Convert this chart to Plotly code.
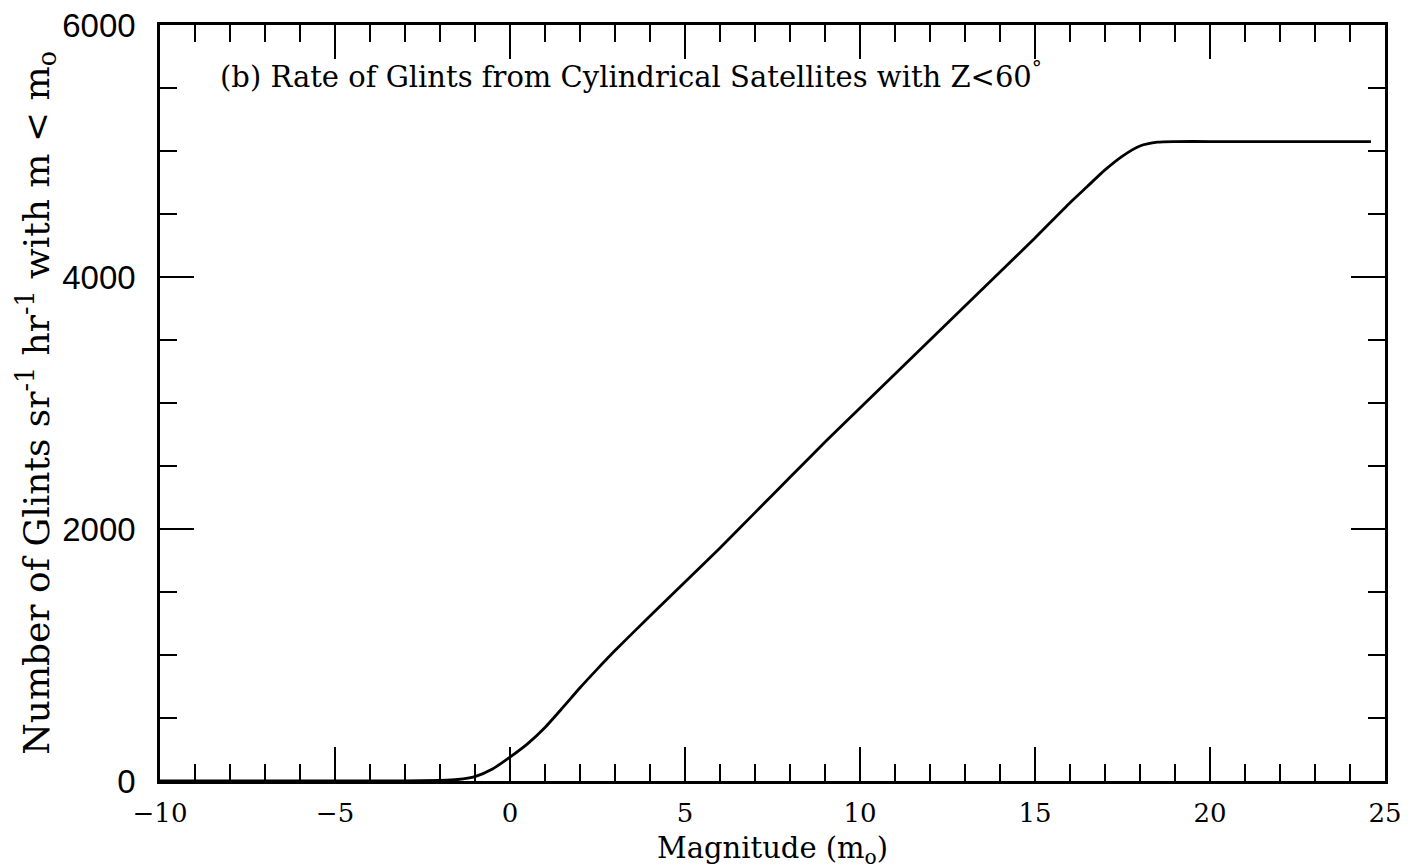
import plotly.graph_objects as go

magnitude = [-10, -9, -8, -7, -6, -5, -4, -3, -2, -1.5, -1, -0.5, 0, 0.5, 1, 1.5, 2, 2.5, 3, 4, 5, 6, 7, 8, 9, 10,
             11, 12, 13, 14, 15, 16, 16.5, 17, 17.5, 18, 18.5, 19, 20, 21, 22, 23, 24, 24.6]
glints = [0, 0, 0, 0, 0, 0, 0, 0, 5, 12, 35, 95, 190, 295, 425, 580, 740, 890, 1035, 1310, 1580, 1850, 2130, 2410,
          2690, 2960, 3230, 3500, 3770, 4040, 4310, 4590, 4720, 4850, 4960, 5040, 5070, 5075, 5075, 5075,
          5075, 5075, 5075, 5075]

x_ticks = [-10, -5, 0, 5, 10, 15, 20, 25]
y_ticks = [0, 2000, 4000, 6000]

serif = "DejaVu Serif"

fig = go.Figure()
fig.add_trace(go.Scatter(x=magnitude, y=glints, mode="lines",
                         line=dict(color="black", width=2.8, shape="spline", smoothing=0.6),
                         showlegend=False, hoverinfo="skip"))

fig.add_annotation(x=-8.35, y=5600, xref="x", yref="y", xanchor="left", yanchor="middle",
                   text="(b) Rate of Glints from Cylindrical Satellites with Z&lt;60<sup>°</sup>",
                   showarrow=False, font=dict(family=serif, size=29, color="black"))

fig.add_annotation(x=0.5, y=-0.064, xref="paper", yref="paper", xanchor="center", yanchor="top",
                   text="Magnitude (m<sub>o</sub>)", showarrow=False,
                   font=dict(family=serif, size=29, color="black"))

fig.update_xaxes(range=[-10, 25], tickvals=x_ticks, ticktext=[str(v).replace("-", "\u2212") for v in x_ticks],
                 ticks="inside", ticklen=34, tickwidth=2, tickcolor="black",
                 minor=dict(dtick=1, ticks="inside", ticklen=17, tickwidth=2, tickcolor="black"),
                 showline=True, linecolor="black", linewidth=2.5, mirror="allticks",
                 showgrid=False, zeroline=False, ticklabelstandoff=7, ticklabeloverflow="allow",
                 tickfont=dict(family=serif, size=26, color="black"))
fig.update_yaxes(range=[0, 6000], tickvals=y_ticks,
                 ticks="inside", ticklen=34, tickwidth=2, tickcolor="black",
                 minor=dict(dtick=500, ticks="inside", ticklen=17, tickwidth=2, tickcolor="black"),
                 showline=True, linecolor="black", linewidth=2.5, mirror="allticks",
                 showgrid=False, zeroline=False, ticklabelstandoff=15, ticklabeloverflow="allow",
                 tickfont=dict(family="Liberation Sans", size=33, color="black"),
                 title=dict(text="Number of Glints sr<sup>-1</sup> hr<sup>-1</sup> with m &lt; m<sub>o</sub>",
                            font=dict(family=serif, size=36, color="black"), standoff=2))

fig.update_layout(width=1420, height=867, margin=dict(l=152, r=43, t=17, b=94, autoexpand=False),
                  paper_bgcolor="white", plot_bgcolor="white")

fig.write_html("out.html")
